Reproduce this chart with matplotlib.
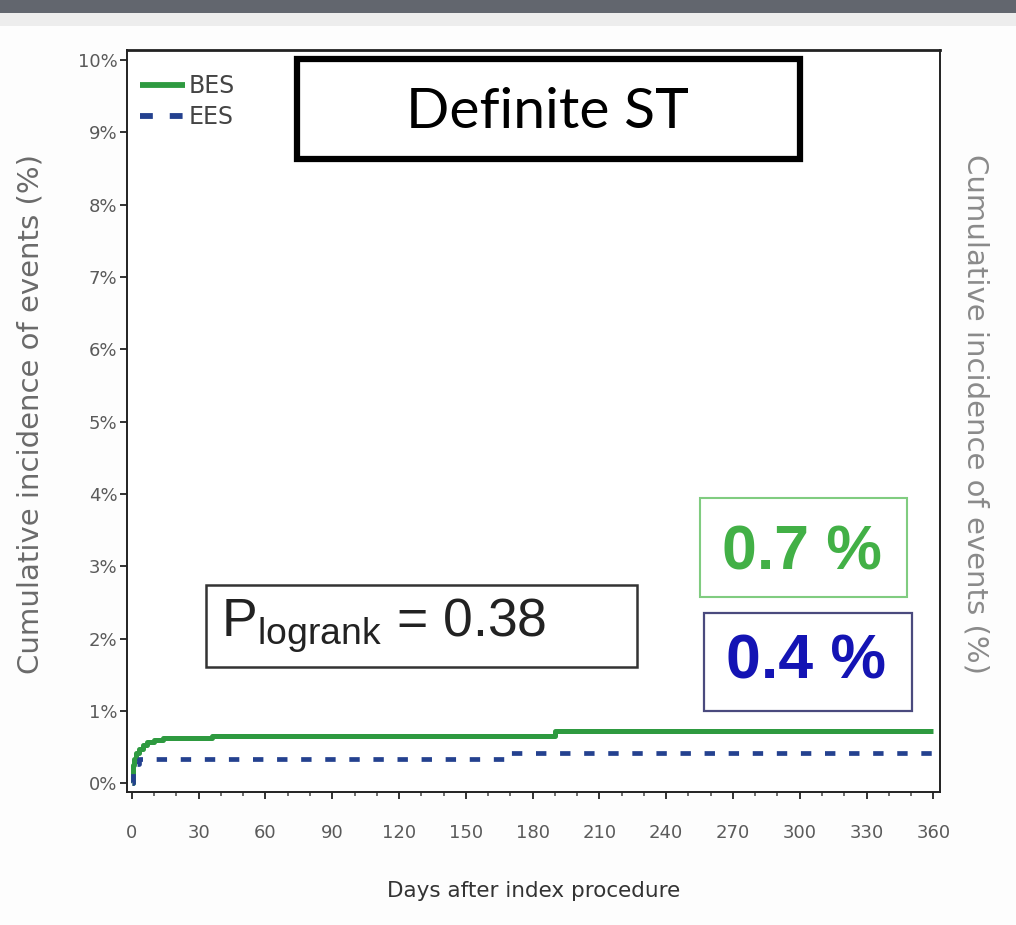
import matplotlib
matplotlib.use("Agg")
import matplotlib.pyplot as plt
from matplotlib.patches import Rectangle
from matplotlib.ticker import MultipleLocator, FuncFormatter

# ---- data ----
bes_days = [0, 0.5, 1, 2, 3, 5, 7, 10, 14, 20, 36, 190, 360]
bes_vals = [0, 0.25, 0.33, 0.42, 0.48, 0.53, 0.57, 0.60, 0.62, 0.63, 0.66, 0.73, 0.73]
ees_days = [0, 0.5, 1, 3, 170, 360]
ees_vals = [0, 0.15, 0.27, 0.33, 0.42, 0.42]
x_ticks = list(range(0, 361, 30))
y_ticks = list(range(0, 11))
series_labels = ["BES", "EES"]
title_text = "Definite ST"
p_text = r"P$_{\mathregular{logrank}}$ = 0.38"
bes_pct_text = "0.7 %"
ees_pct_text = "0.4 %"

W, H = 1016, 925
fig = plt.figure(figsize=(W / 100, H / 100), dpi=100)
fig.patch.set_facecolor("#fdfdfd")

narrow = ["DejaVu Sans"]

def fx(px):
    return px / W

def fy(py):
    return 1 - py / H

# top dark band
fig.patches.append(Rectangle((0, fy(13)), 1, 13 / H, transform=fig.transFigure,
                             facecolor="#62666e", edgecolor="none", zorder=0))
fig.patches.append(Rectangle((0, fy(26)), 1, 13 / H, transform=fig.transFigure,
                             facecolor="#ededed", edgecolor="none", zorder=0))

ax = fig.add_axes([fx(127), fy(792), fx(940) - fx(127), (792 - 50) / H])
ax.set_facecolor("white")

green = "#2e9a40"
blue = "#24418f"
ax.step(bes_days, bes_vals, where="post", color=green, lw=3.6,
        label=series_labels[0], zorder=3, solid_capstyle="butt")
ax.step(ees_days, ees_vals, where="post", color=blue, lw=3.4,
        dashes=(2.2, 2.9), label=series_labels[1], zorder=3)

ax.set_xlim(-2.2, 363)
ax.set_ylim(-0.12, 10.14)
ax.set_xticks(x_ticks)
ax.xaxis.set_minor_locator(MultipleLocator(10))
ax.set_yticks(y_ticks)
ax.yaxis.set_major_formatter(FuncFormatter(lambda v, p: f"{int(v)}%"))

for s in ax.spines.values():
    s.set_color("#222222")
    s.set_linewidth(1.4)
ax.spines["top"].set_linewidth(2.0)

ax.tick_params(axis="both", which="major", direction="out", length=5, width=1.3,
               colors="#222222", labelcolor="#5a5a5a", labelsize=13)
ax.tick_params(axis="x", which="minor", direction="out", length=3, width=1.1,
               colors="#444444")
ax.tick_params(axis="x", pad=18)
ax.tick_params(axis="y", pad=2)

ax.set_xlabel("Days after index procedure", family=narrow, fontsize=15.5,
              color="#333333", labelpad=28)

fig.text(fx(31), fy(414), "Cumulative incidence of events (%)", rotation=90,
         ha="center", va="center", fontsize=21, color="#6a6a6a",
         family="DejaVu Sans")
fig.text(fx(975), fy(414), "Cumulative incidence of events (%)", rotation=270,
         ha="center", va="center", fontsize=21, color="#8a8a8a",
         family="DejaVu Sans")

leg = ax.legend(loc="upper left", bbox_to_anchor=(0.0, 0.985), frameon=False,
                handlelength=1.9, handletextpad=0.15, labelspacing=0.3,
                borderaxespad=0.25, borderpad=0.3,
                prop={"family": narrow, "size": 17})
for t in leg.get_texts():
    t.set_color("#444444")
for h in leg.get_lines():
    h.set_linewidth(4.2)

def box(x0, y0, x1, y1, ec, lw):
    fig.patches.append(Rectangle((fx(x0), fy(y1)), fx(x1) - fx(x0), (y1 - y0) / H,
                                 transform=fig.transFigure, facecolor="white",
                                 edgecolor=ec, linewidth=lw, zorder=5))

box(297, 59, 800, 159, "black", 4.5)
fig.text(fx(547), fy(112), title_text, ha="center", va="center", fontsize=41,
         family=["Lato", "DejaVu Sans"], color="black", zorder=6)

box(206, 585, 637, 667, "#333333", 1.8)
fig.text(fx(221), fy(626), p_text, ha="left", va="center", fontsize=38.5,
         family=["Liberation Sans", "DejaVu Sans"], color="#222222", zorder=6)

box(700, 498, 907, 597, "#80cc80", 1.5)
fig.text(fx(802), fy(553), bes_pct_text, ha="center", va="center", fontsize=45,
         fontweight="bold", family=["Liberation Sans", "DejaVu Sans"],
         color="#42b046", zorder=6)

box(704, 613, 912, 711, "#4a4a7e", 1.6)
fig.text(fx(806), fy(662), ees_pct_text, ha="center", va="center", fontsize=45,
         fontweight="bold", family=["Liberation Sans", "DejaVu Sans"],
         color="#1414b4", zorder=6)

fig.savefig("out.png", dpi=100, facecolor=fig.get_facecolor())
